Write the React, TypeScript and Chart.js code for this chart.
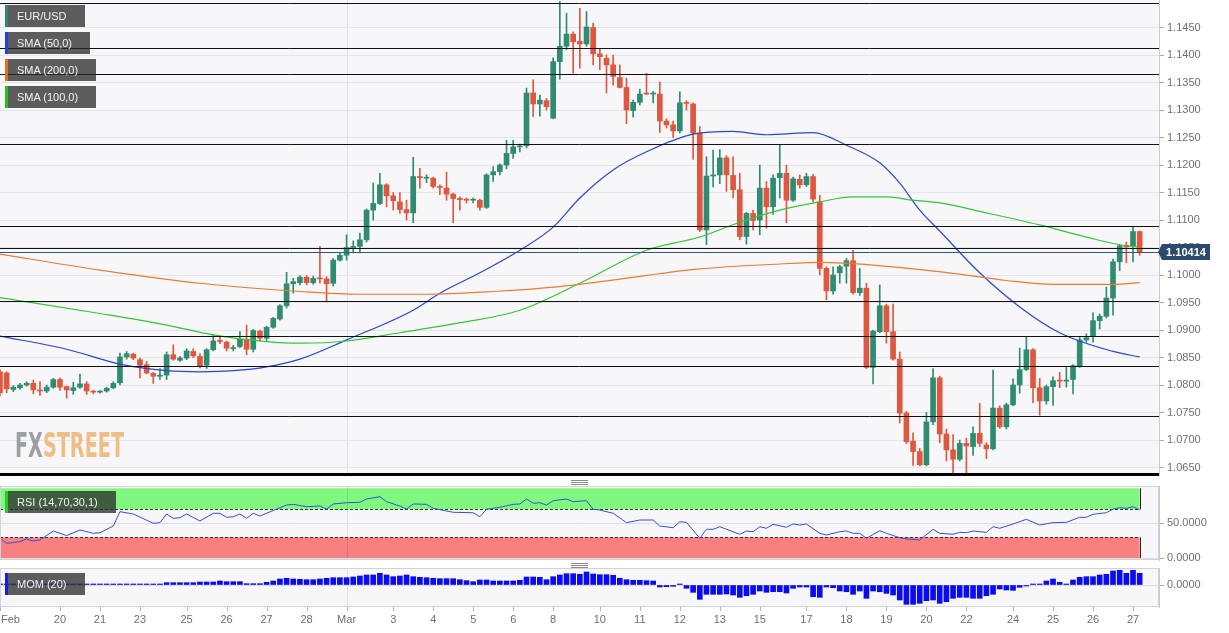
import React, { useEffect, useRef } from "react";
import { Chart, registerables } from "chart.js";
Chart.register(...registerables);

const FONT = '"Liberation Sans", Arial, Helvetica, sans-serif';

// ---------- DATA (4H EUR/USD candles, index 0..171) ----------
const opens = [
  1.0824,1.0822,1.0792,1.0795,1.0800,1.0803,1.0791,1.0789,1.0796,1.0810,
  1.0797,1.0790,1.0796,1.0802,1.0789,1.0787,1.0789,1.0795,1.0804,1.0851,
  1.0856,1.0846,1.0837,1.0821,1.0816,1.0818,1.0855,1.0845,1.0849,1.0861,
  1.0852,1.0836,1.0864,1.0881,1.0878,1.0866,1.0870,1.0883,1.0865,1.0898,
  1.0885,1.0905,1.0920,1.0944,1.0984,1.0986,1.0996,1.0986,1.0994,1.0993,
  1.0985,1.1027,1.1036,1.1050,1.1052,1.1064,1.1118,1.1130,1.1164,1.1144,
  1.1133,1.1119,1.1113,1.1179,1.1176,1.1176,1.1161,1.1158,1.1147,1.1139,
  1.1137,1.1136,1.1136,1.1123,1.1182,1.1188,1.1200,1.1221,1.1233,1.1235,
  1.1331,1.1311,1.1317,1.1285,1.1388,1.1416,1.1438,1.1425,1.1420,1.1450,
  1.1402,1.1394,1.1382,1.1359,1.1341,1.1299,1.1314,1.1330,1.1329,1.1329,
  1.1280,1.1273,1.1262,1.1313,1.1311,1.1258,1.1082,1.1180,1.1182,1.1213,
  1.1181,1.1155,1.1070,1.1112,1.1100,1.1158,1.1124,1.1177,1.1185,1.1136,
  1.1174,1.1164,1.1179,1.1133,1.1012,1.0971,1.1004,1.1016,1.1026,1.0968,
  1.0976,1.0832,1.0897,1.0944,1.0897,1.0847,1.0749,1.0698,1.0679,1.0655,
  1.0733,1.0813,1.0711,1.0682,1.0665,1.0694,1.0688,1.0712,1.0691,1.0684,
  1.0758,1.0724,1.0764,1.0800,1.0828,1.0864,1.0795,1.0771,1.0797,1.0809,
  1.0807,1.0810,1.0835,1.0882,1.0888,1.0917,1.0925,1.0958,1.1024,1.1054,
  1.1052,1.1079,
];
const highs = [
  1.0828,1.0824,1.0799,1.0803,1.0806,1.0809,1.0806,1.0800,1.0812,1.0813,
  1.0798,1.0805,1.0820,1.0806,1.0790,1.0790,1.0796,1.0806,1.0858,1.0861,
  1.0858,1.0849,1.0843,1.0823,1.0830,1.0860,1.0873,1.0852,1.0866,1.0866,
  1.0857,1.0866,1.0891,1.0888,1.0880,1.0872,1.0897,1.0909,1.0901,1.0900,
  1.0907,1.0923,1.0946,1.1005,1.0994,1.0999,1.0999,1.0998,1.1052,1.0997,
  1.1030,1.1040,1.1073,1.1062,1.1076,1.1120,1.1167,1.1185,1.1166,1.1150,
  1.1150,1.1136,1.1214,1.1194,1.1182,1.1178,1.1164,1.1187,1.1149,1.1142,
  1.1140,1.1140,1.1138,1.1184,1.1197,1.1202,1.1245,1.1245,1.1238,1.1340,
  1.1355,1.1327,1.1321,1.1395,1.1497,1.1476,1.1442,1.1485,1.1479,1.1458,
  1.1412,1.1400,1.1400,1.1382,1.1358,1.1318,1.1338,1.1367,1.1334,1.1351,
  1.1284,1.1280,1.1333,1.1317,1.1313,1.1270,1.1215,1.1227,1.1228,1.1217,
  1.1215,1.1185,1.1114,1.1118,1.1200,1.1170,1.1182,1.1236,1.1200,1.1178,
  1.1182,1.1185,1.1183,1.1145,1.1015,1.1015,1.1018,1.1030,1.1045,1.1012,
  1.0985,1.0900,1.0982,1.0947,1.0947,1.0860,1.0752,1.0713,1.0685,1.0750,
  1.0830,1.0816,1.0720,1.0710,1.0700,1.0703,1.0724,1.0767,1.0695,1.0827,
  1.0762,1.0767,1.0811,1.0867,1.0887,1.0866,1.0812,1.0800,1.0815,1.0823,
  1.0832,1.0837,1.0887,1.0893,1.0931,1.0929,1.0978,1.1029,1.1056,1.1060,
  1.1088,1.1080,
];
const lows = [
  1.0780,1.0786,1.0788,1.0792,1.0798,1.0784,1.0781,1.0786,1.0794,1.0790,
  1.0776,1.0783,1.0794,1.0783,1.0784,1.0785,1.0787,1.0793,1.0800,1.0847,
  1.0846,1.0813,1.0820,1.0803,1.0810,1.0810,1.0845,1.0843,1.0846,1.0850,
  1.0831,1.0830,1.0862,1.0875,1.0862,1.0862,1.0868,1.0855,1.0860,1.0880,
  1.0881,1.0903,1.0918,1.0940,1.0967,1.0982,1.0982,1.0983,1.0985,1.0951,
  1.0980,1.1025,1.1027,1.1040,1.1040,1.1060,1.1100,1.1128,1.1124,1.1118,
  1.1112,1.1100,1.1095,1.1158,1.1168,1.1158,1.1146,1.1136,1.1095,1.1118,
  1.1131,1.1131,1.1118,1.1121,1.1170,1.1182,1.1193,1.1212,1.1224,1.1231,
  1.1288,1.1289,1.1300,1.1284,1.1356,1.1410,1.1367,1.1376,1.1416,1.1382,
  1.1373,1.1331,1.1345,1.1340,1.1275,1.1287,1.1309,1.1328,1.1313,1.1259,
  1.1267,1.1250,1.1258,1.1300,1.1210,1.1079,1.1055,1.1160,1.1166,1.1152,
  1.1140,1.1064,1.1056,1.1082,1.1073,1.1085,1.1110,1.1140,1.1095,1.1134,
  1.1158,1.1161,1.1133,1.1000,1.0955,1.0965,1.0985,1.0985,1.0965,1.0963,
  1.0830,1.0802,1.0895,1.0876,1.0845,1.0731,1.0693,1.0654,1.0653,1.0653,
  1.0728,1.0695,1.0662,1.0636,1.0662,1.0637,1.0672,1.0688,1.0666,1.0682,
  1.0721,1.0720,1.0762,1.0785,1.0826,1.0768,1.0745,1.0765,1.0763,1.0795,
  1.0796,1.0784,1.0832,1.0878,1.0878,1.0902,1.0922,1.0927,1.1008,1.1022,
  1.1024,1.1036,
];
const closes = [
  1.0786,1.0793,1.0796,1.0800,1.0803,1.0791,1.0789,1.0796,1.0810,1.0796,
  1.0791,1.0795,1.0802,1.0789,1.0787,1.0789,1.0794,1.0803,1.0851,1.0857,
  1.0849,1.0836,1.0822,1.0816,1.0818,1.0855,1.0847,1.0849,1.0862,1.0853,
  1.0835,1.0864,1.0880,1.0879,1.0867,1.0868,1.0883,1.0865,1.0899,1.0885,
  1.0905,1.0921,1.0944,1.0984,1.0988,1.0996,1.0986,1.0994,1.0993,1.0984,
  1.1027,1.1036,1.1050,1.1052,1.1064,1.1118,1.1130,1.1164,1.1144,1.1135,
  1.1119,1.1113,1.1179,1.1177,1.1177,1.1161,1.1159,1.1147,1.1139,1.1137,
  1.1136,1.1136,1.1123,1.1182,1.1188,1.1200,1.1221,1.1233,1.1235,1.1331,
  1.1311,1.1318,1.1306,1.1388,1.1416,1.1438,1.1424,1.1420,1.1451,1.1402,
  1.1397,1.1382,1.1361,1.1341,1.1300,1.1314,1.1329,1.1329,1.1330,1.1280,
  1.1273,1.1262,1.1313,1.1312,1.1258,1.1082,1.1180,1.1182,1.1213,1.1182,
  1.1155,1.1070,1.1112,1.1099,1.1158,1.1124,1.1176,1.1185,1.1136,1.1175,
  1.1164,1.1179,1.1138,1.1012,1.0971,1.1000,1.1015,1.1026,1.0968,1.0976,
  1.0832,1.0898,1.0944,1.0897,1.0847,1.0749,1.0697,1.0679,1.0655,1.0733,
  1.0813,1.0711,1.0682,1.0665,1.0694,1.0689,1.0712,1.0694,1.0684,1.0758,
  1.0724,1.0764,1.0800,1.0828,1.0864,1.0795,1.0771,1.0797,1.0808,1.0807,
  1.0809,1.0835,1.0882,1.0886,1.0917,1.0925,1.0958,1.1024,1.1053,1.1051,
  1.1079,1.10414,
];

// Moving averages, read at sampled candle indices
const sma50Idx = [0,10,18,25,30,35,40,45,52,62,66,72,78,83,87,92,97,104,110,115,122,127,132,135,138,141,147,153,159,167,171];
const sma50 = [1.0889,1.0865,1.0838,1.0826,1.0824,1.0826,1.0833,1.0847,1.0882,1.0936,1.0967,1.1004,1.1045,1.1087,1.1140,1.1191,1.1224,1.1256,1.1261,1.1255,1.1259,1.1236,1.1204,1.1167,1.1118,1.1080,1.1004,1.0942,1.0895,1.0861,1.0851];
const sma100Idx = [0,15,25,32,40,45,52,60,68,78,87,97,105,111,117,123,128,133,137,141,148,156,163,168,171];
const sma100 = [1.0959,1.0930,1.0909,1.0891,1.0879,1.0876,1.0880,1.0895,1.0911,1.0936,1.0985,1.1045,1.1069,1.1096,1.1118,1.1133,1.1142,1.1142,1.1136,1.1131,1.1113,1.1091,1.1069,1.1055,1.1051];
const sma200Idx = [0,15,30,45,54,64,74,84,89,105,117,123,131,143,151,158,167,171];
const sma200 = [1.1038,1.1009,1.0985,1.0970,1.0965,1.0965,1.0970,1.0979,1.0986,1.1011,1.1020,1.1023,1.1018,1.1003,1.0990,1.0983,1.0983,1.0986];

// RSI(14) read at candle indices
const rsiIdx = [0,1,3,4,5,6,8,10,12,14,15,17,18,20,23,24,25,26,27,28,30,32,33,34,35,36,37,38,39,40,43,44,46,48,49,50,52,54,55,57,58,60,61,62,64,65,68,71,72,73,75,77,78,79,80,81,82,83,85,86,88,89,90,92,94,96,98,99,101,102,103,105,106,107,108,111,112,113,114,115,116,118,119,120,121,123,124,126,127,128,129,130,132,133,135,136,138,140,141,143,144,145,146,148,149,150,152,154,156,158,160,162,163,164,166,167,168,169,170,171];
const rsiVal = [28.6,21.4,23.8,27.6,24.7,26.2,39,32.4,40.4,35.7,36.6,46.1,66.6,63.3,50,50.9,63.3,57.1,58,63.3,53.3,64.3,64.3,58.6,59.4,63.3,57.1,64.3,60.4,64.3,76.1,77.1,73.7,74.7,70.4,77.6,79.4,80,84.7,88,80.9,74.7,70.4,77.6,77.1,71.4,65.7,65.1,59.4,70,72.9,77.1,77.6,84.7,78.6,79.4,76.1,82.3,84.7,80.9,82.3,70,69,64.3,50.9,54.7,54.7,46.1,43.7,52.3,51.4,28.6,41.4,41.4,45.1,34.3,39,38,45.1,42.9,48.6,44.3,49,47.6,49,35.7,33.3,38,39,35.7,35.7,28.6,39.4,35.7,29.4,27.6,26.2,41.4,35.7,34.3,37.1,36.6,39,37.1,45.1,42.9,49,55.7,47.6,50.9,51.4,58.6,58.6,62.9,65.1,70.4,72.3,71.4,73.7,69];
const RSI_UPPER = 70;
const RSI_LOWER = 30;

// Momentum(20) per candle
const mom = [
  0.0005,0.0005,0.0005,0.0005,0.0005,0.0005,0.0005,0.0005,0.0005,0.0005,
  0.0005,0.0005,0.0005,0.0015,0.0015,0.0015,0.0015,0.0015,0.0015,0.0015,
  0.0015,0.0015,0.0015,0.0015,0.0015,0.0058,0.0058,0.0058,0.0058,0.0058,
  0.0075,0.0075,0.0075,0.0100,0.0083,0.0083,0.0083,0.0033,0.0033,0.0033,
  0.0068,0.0100,0.0150,0.0168,0.0150,0.0143,0.0133,0.0133,0.0150,0.0168,
  0.0183,0.0183,0.0183,0.0200,0.0225,0.0250,0.0250,0.0293,0.0250,0.0208,
  0.0225,0.0250,0.0208,0.0193,0.0183,0.0168,0.0158,0.0158,0.0158,0.0133,
  0.0108,0.0083,0.0125,0.0125,0.0100,0.0100,0.0100,0.0100,0.0118,0.0200,
  0.0200,0.0193,0.0133,0.0208,0.0250,0.0283,0.0283,0.0268,0.0325,0.0275,
  0.0258,0.0258,0.0243,0.0168,0.0133,0.0118,0.0118,0.0108,0.0100,-0.0050,
  -0.0043,-0.0033,0.0003,-0.0083,-0.0183,-0.0358,-0.0233,-0.0233,-0.0233,-0.0225,
  -0.0250,-0.0308,-0.0268,-0.0233,-0.0150,-0.0183,-0.0168,-0.0168,-0.0200,-0.0083,
  -0.0050,-0.0050,-0.0293,-0.0308,-0.0050,-0.0068,-0.0150,-0.0168,-0.0233,-0.0150,
  -0.0333,-0.0150,-0.0168,-0.0208,-0.0250,-0.0375,-0.0483,-0.0483,-0.0458,-0.0393,
  -0.0375,-0.0458,-0.0418,-0.0333,-0.0308,-0.0308,-0.0333,-0.0333,-0.0268,-0.0233,
  -0.0100,-0.0125,-0.0133,-0.0058,-0.0018,0.0003,0.0025,0.0100,0.0150,0.0068,
  0.0003,0.0125,0.0193,0.0208,0.0208,0.0250,0.0268,0.0350,0.0368,0.0293,
  0.0368,0.0293,
];

// Drawn horizontal support/resistance lines
const hLines = [1.1494, 1.1412, 1.1365, 1.1238, 1.1089, 1.1049, 1.0953, 1.0890, 1.0835, 1.0744];

// Axis ticks
const priceTicks = [1.065,1.07,1.075,1.08,1.085,1.09,1.095,1.1,1.105,1.11,1.115,1.12,1.125,1.13,1.135,1.14,1.145];
const rsiTicks = [0, 50];
const momTicks = [0];
const xTickIdx = [0,9,15,21,28,34,40,46,52,59,65,71,77,83,90,96,102,108,114,121,127,133,139,145,152,158,164,170];
const xTickText = ['Feb','20','21','23','25','26','27','28','Mar','3','4','5','6','8','10','11','12','13','15','17','18','19','20','22','24','25','26','27'];
const MONTH_IDX = 52;

// ---------- STYLE ----------
const UP = "#2f8c70";
const DOWN = "#e0573f";
const C_SMA50 = "#2a45d8";
const C_SMA100 = "#33c733";
const C_SMA200 = "#ea7d2e";
const C_RSI = "#3550d8";
const C_MOM = "#0b0bef";
const PANEL_BG = "#f7f7f9";
const AXIS_W = 70;
const X_MAX = 173.9;
const Y_MIN = 1.063455;
const Y_MAX = 1.15;

const lastIdx = closes.length - 1;
const lastClose = closes[lastIdx];

function pts(idx: number[], vals: number[]) {
  return idx.map((x, k) => ({ x, y: vals[k] }));
}

function xAxis() {
  return { type: "linear", min: 0, max: X_MAX, offset: false, display: false, grid: { offset: false } };
}

function rightAxis(min: number, max: number, tickVals: number[], gridColor: string) {
  return {
    position: "right",
    min,
    max,
    afterBuildTicks: (s: any) => {
      s.ticks = tickVals.map((v) => ({ value: v }));
    },
    afterFit: (s: any) => {
      s.width = AXIS_W;
      s.paddingTop = 0;
      s.paddingBottom = 0;
    },
    ticks: {
      autoSkip: false,
      padding: 3,
      color: "#707070",
      font: { size: 11, family: FONT },
      callback: (v: any) => Number(v).toFixed(4),
    },
    grid: { color: gridColor, tickColor: "#a6a6ae", tickLength: 5 },
    border: { color: "#c9cad3" },
  };
}

function drawMonthLine(chart: any) {
  const { ctx, chartArea: a, scales } = chart;
  const x = Math.round(scales.x.getPixelForValue(MONTH_IDX)) + 0.5;
  ctx.save();
  ctx.strokeStyle = "rgba(0,0,0,0.09)";
  ctx.lineWidth = 1;
  ctx.beginPath();
  ctx.moveTo(x, a.top);
  ctx.lineTo(x, a.bottom);
  ctx.stroke();
  ctx.restore();
}

function fillPanel(chart: any) {
  const { ctx, chartArea: a } = chart;
  ctx.save();
  ctx.fillStyle = PANEL_BG;
  ctx.fillRect(a.left, a.top, a.right - a.left, a.bottom - a.top);
  ctx.restore();
}

function strokePanel(chart: any) {
  const { ctx, chartArea: a } = chart;
  ctx.save();
  ctx.strokeStyle = "#d2d3da";
  ctx.lineWidth = 1;
  ctx.strokeRect(a.left + 0.5, a.top + 0.5, a.right - a.left - 1, a.bottom - a.top - 1);
  ctx.restore();
}

const mainDecor = {
  id: "mainDecor",
  beforeDraw(chart: any) {
    fillPanel(chart);
    drawMonthLine(chart);
  },
  beforeDatasetsDraw(chart: any) {
    const { ctx } = chart;
    ctx.save();
    ctx.font = `bold 34px "Liberation Sans Narrow", "DejaVu Sans Condensed", "Liberation Sans", sans-serif`;
    ctx.textBaseline = "alphabetic";
    const wFX = ctx.measureText("FX").width;
    const wAll = ctx.measureText("FXSTREET").width;
    ctx.translate(15, 457);
    ctx.scale(109 / wAll, 1);
    ctx.fillStyle = "#9b9ea3";
    ctx.fillText("FX", 0, 0);
    ctx.fillStyle = "#f0bd85";
    ctx.fillText("STREET", wFX, 0);
    ctx.restore();
  },
  afterDatasetsDraw(chart: any) {
    const { ctx, chartArea: a, scales } = chart;
    ctx.save();
    ctx.strokeStyle = "#111";
    ctx.lineWidth = 1;
    hLines.forEach((v) => {
      const y = Math.round(scales.y.getPixelForValue(v)) + 0.5;
      ctx.beginPath();
      ctx.moveTo(a.left, y);
      ctx.lineTo(a.right, y);
      ctx.stroke();
    });
    const yl = Math.round(scales.y.getPixelForValue(lastClose)) + 0.5;
    ctx.strokeStyle = "#34557c";
    ctx.beginPath();
    ctx.moveTo(a.left, yl);
    ctx.lineTo(a.right, yl);
    ctx.stroke();
    ctx.strokeStyle = "#000";
    ctx.lineWidth = 3;
    ctx.beginPath();
    ctx.moveTo(a.left, a.bottom - 1.5);
    ctx.lineTo(a.right, a.bottom - 1.5);
    ctx.stroke();
    ctx.restore();
  },
  afterDraw(chart: any) {
    const { ctx, chartArea: a, scales } = chart;
    const y = Math.round(scales.y.getPixelForValue(lastClose));
    ctx.save();
    ctx.fillStyle = "#2c4a6e";
    ctx.beginPath();
    ctx.moveTo(a.right - 1, y);
    ctx.lineTo(a.right + 3, y - 8);
    ctx.lineTo(a.right + 51, y - 8);
    ctx.lineTo(a.right + 51, y + 8);
    ctx.lineTo(a.right + 3, y + 8);
    ctx.closePath();
    ctx.fill();
    ctx.fillStyle = "#ffffff";
    ctx.font = `bold 11px ${FONT}`;
    ctx.textAlign = "center";
    ctx.textBaseline = "middle";
    ctx.fillText(lastClose.toFixed(5), a.right + 27, y + 0.5);
    ctx.restore();
  },
};

const rsiDecor = {
  id: "rsiDecor",
  beforeDraw(chart: any) {
    fillPanel(chart);
    const { ctx, chartArea: a, scales } = chart;
    const xr = scales.x.getPixelForValue(lastIdx);
    const y100 = scales.y.getPixelForValue(100);
    const yU = scales.y.getPixelForValue(RSI_UPPER);
    const yL = scales.y.getPixelForValue(RSI_LOWER);
    const y0 = scales.y.getPixelForValue(0);
    ctx.save();
    ctx.fillStyle = "rgb(128,248,128)";
    ctx.fillRect(a.left, y100, xr - a.left, yU - y100);
    ctx.fillStyle = "rgb(248,128,128)";
    ctx.fillRect(a.left, yL, xr - a.left, y0 - yL);
    ctx.strokeStyle = "#222";
    ctx.lineWidth = 1;
    const xe = Math.round(xr) + 0.5;
    [[y100, yU], [yL, y0]].forEach(([t, b]) => {
      ctx.beginPath();
      ctx.moveTo(xe, t);
      ctx.lineTo(xe, b);
      ctx.moveTo(a.left + 0.5, t);
      ctx.lineTo(a.left + 0.5, b);
      ctx.stroke();
    });
    ctx.restore();
    drawMonthLine(chart);
  },
  beforeDatasetsDraw(chart: any) {
    const { ctx, chartArea: a, scales } = chart;
    const xr = scales.x.getPixelForValue(lastIdx);
    ctx.save();
    ctx.strokeStyle = "#333";
    ctx.lineWidth = 1;
    ctx.setLineDash([3, 2]);
    [RSI_UPPER, RSI_LOWER].forEach((v) => {
      const y = Math.round(scales.y.getPixelForValue(v)) + 0.5;
      ctx.beginPath();
      ctx.moveTo(a.left, y);
      ctx.lineTo(xr, y);
      ctx.stroke();
    });
    ctx.restore();
  },
  afterDraw(chart: any) {
    strokePanel(chart);
  },
};

const momDecor = {
  id: "momDecor",
  beforeDraw(chart: any) {
    fillPanel(chart);
    drawMonthLine(chart);
  },
  afterDraw(chart: any) {
    strokePanel(chart);
    const { ctx, chartArea: a, scales } = chart;
    ctx.save();
    ctx.font = `11px ${FONT}`;
    ctx.fillStyle = "#6e6e6e";
    ctx.strokeStyle = "#b4b5bd";
    ctx.lineWidth = 1;
    ctx.textAlign = "center";
    ctx.textBaseline = "middle";
    xTickIdx.forEach((ti, k) => {
      const px = scales.x.getPixelForValue(ti);
      const xs = Math.round(px) + 0.5;
      ctx.beginPath();
      ctx.moveTo(xs, a.bottom);
      ctx.lineTo(xs, a.bottom + 4);
      ctx.stroke();
      const w = ctx.measureText(xTickText[k]).width;
      ctx.fillText(xTickText[k], Math.max(px, w / 2 + 1), a.bottom + 13);
    });
    ctx.restore();
  },
};

function Tag(props: { left: number; top: number; width: number; color: string; text: string }) {
  return (
    <div
      style={{
        position: "absolute",
        left: props.left,
        top: props.top,
        width: props.width,
        height: 22,
        background: "rgba(40,40,40,0.75)",
        color: "#f2f2f2",
        font: `11px ${FONT}`,
        lineHeight: "22px",
        paddingLeft: 12,
        boxSizing: "border-box",
        whiteSpace: "nowrap",
        zIndex: 5,
      }}
    >
      <div style={{ position: "absolute", left: 0, top: 0, width: 3, height: 22, background: props.color }} />
      {props.text}
    </div>
  );
}

function Grip(props: { top: number }) {
  const line = (t: number) => (
    <div style={{ position: "absolute", left: 0, top: t, width: 17, height: 1, background: "#8a8a8a" }} />
  );
  return (
    <div style={{ position: "absolute", left: 571, top: props.top, width: 17, height: 5, zIndex: 5 }}>
      {line(0)}
      {line(2)}
      {line(4)}
    </div>
  );
}

export default function App() {
  const mainRef = useRef<HTMLCanvasElement>(null);
  const rsiRef = useRef<HTMLCanvasElement>(null);
  const momRef = useRef<HTMLCanvasElement>(null);

  useEffect(() => {
    document.body.style.margin = "0";
    const candleColors = closes.map((c, i) => (c >= opens[i] ? UP : DOWN));
    const bodies = closes.map((c, i) => ({ x: i, y: [opens[i], c] }));
    const wicks = closes.map((_, i) => ({ x: i, y: [lows[i], highs[i]] }));
    const base = {
      responsive: false,
      animation: false,
      devicePixelRatio: 1,
      events: [],
      plugins: { legend: { display: false }, tooltip: { enabled: false } },
    };
    const lineDs = (data: any[], color: string) => ({
      type: "line",
      data,
      borderColor: color,
      borderWidth: 1.2,
      pointRadius: 0,
      cubicInterpolationMode: "monotone",
      order: 0,
    });

    const main = new Chart(mainRef.current as any, {
      type: "bar",
      data: {
        datasets: [
          lineDs(pts(sma200Idx, sma200), C_SMA200),
          lineDs(pts(sma100Idx, sma100), C_SMA100),
          lineDs(pts(sma50Idx, sma50), C_SMA50),
          { type: "bar", data: wicks, backgroundColor: candleColors, barThickness: 1, grouped: false, order: 2 },
          { type: "bar", data: bodies, backgroundColor: candleColors, barThickness: 5, minBarLength: 1, grouped: false, order: 1 },
        ],
      } as any,
      options: {
        ...base,
        layout: { padding: 0 },
        scales: { x: xAxis(), y: rightAxis(Y_MIN, Y_MAX, priceTicks, "#e5e5ea") },
      } as any,
      plugins: [mainDecor],
    });

    const rsi = new Chart(rsiRef.current as any, {
      type: "line",
      data: {
        datasets: [
          { data: pts(rsiIdx, rsiVal), borderColor: C_RSI, borderWidth: 1, pointRadius: 0, tension: 0 },
        ],
      } as any,
      options: {
        ...base,
        layout: { padding: { top: 0, bottom: 6, left: 0, right: 0 } },
        scales: { x: xAxis(), y: rightAxis(-2.43, 103.29, rsiTicks, "#dcdce2") },
      } as any,
      plugins: [rsiDecor],
    });

    const momChart = new Chart(momRef.current as any, {
      type: "bar",
      data: {
        datasets: [
          { data: mom.map((v, i) => ({ x: i, y: v })), backgroundColor: C_MOM, barThickness: 5, minBarLength: 1 },
        ],
      } as any,
      options: {
        ...base,
        layout: { padding: { top: 2, bottom: 26, left: 0, right: 0 } },
        scales: { x: xAxis(), y: rightAxis(-0.055, 0.0425, momTicks, "#dcdce2") },
      } as any,
      plugins: [momDecor],
    });

    return () => {
      main.destroy();
      rsi.destroy();
      momChart.destroy();
    };
  }, []);

  return (
    <div style={{ position: "relative", width: 1229, height: 633, background: "#ffffff", overflow: "hidden" }}>
      <canvas ref={mainRef} width={1229} height={476} style={{ position: "absolute", left: 0, top: 0, display: "block" }} />
      <canvas ref={rsiRef} width={1229} height={80} style={{ position: "absolute", left: 0, top: 486, display: "block" }} />
      <canvas ref={momRef} width={1229} height={67} style={{ position: "absolute", left: 0, top: 566, display: "block" }} />
      <Tag left={5} top={5} width={80} color="#2e8b6f" text="EUR/USD" />
      <Tag left={5} top={32} width={85} color="#1f3fe0" text="SMA (50,0)" />
      <Tag left={5} top={59} width={91} color="#e0701e" text="SMA (200,0)" />
      <Tag left={5} top={86} width={91} color="#22c322" text="SMA (100,0)" />
      <Tag left={5} top={491} width={111} color="#22d022" text="RSI (14,70,30,1)" />
      <Tag left={5} top={573} width={80} color="#1a1ae8" text="MOM (20)" />
      <Grip top={480} />
      <Grip top={563} />
    </div>
  );
}
